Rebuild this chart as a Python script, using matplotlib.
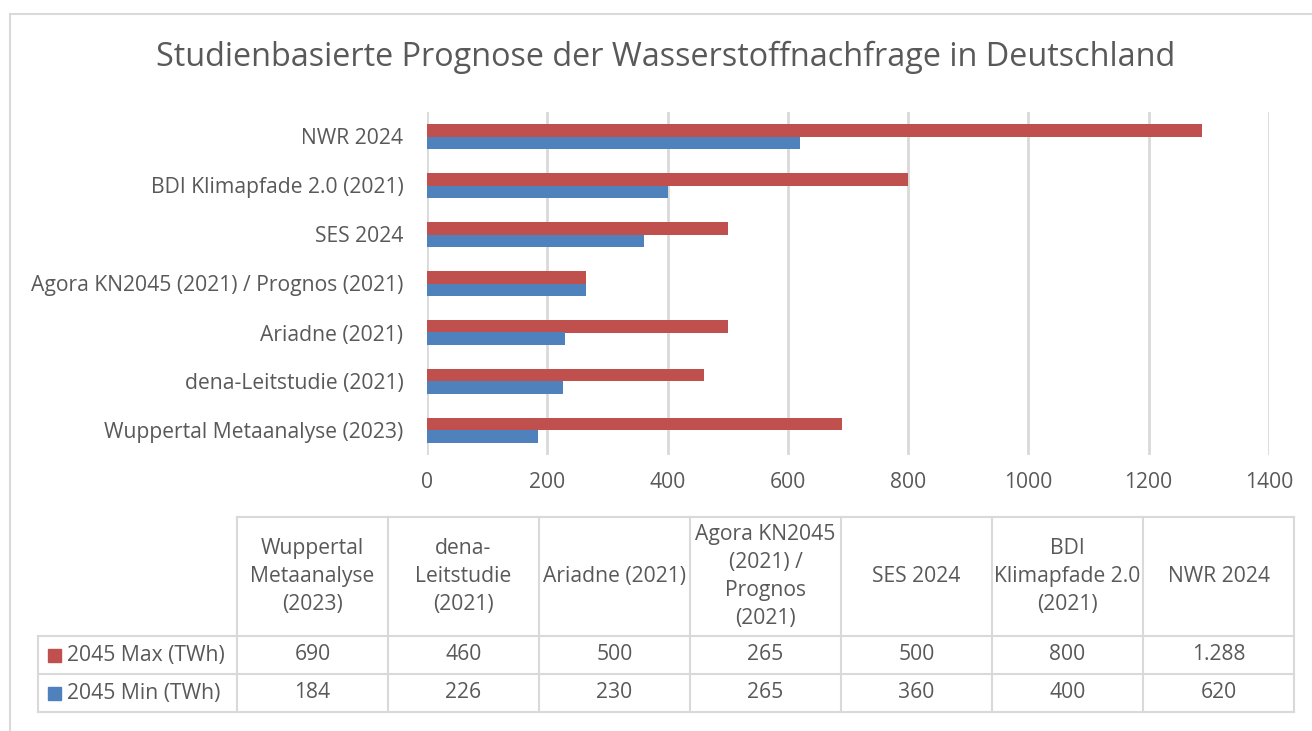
import matplotlib
matplotlib.use("Agg")
import matplotlib.pyplot as plt
from matplotlib.patches import Rectangle

# data (bottom to top in the chart)
studies = ["Wuppertal Metaanalyse (2023)", "dena-Leitstudie (2021)", "Ariadne (2021)",
           "Agora KN2045 (2021) / Prognos (2021)", "SES 2024",
           "BDI Klimapfade 2.0 (2021)", "NWR 2024"]
header_labels = ["Wuppertal\nMetaanalyse\n(2023)", "dena-\nLeitstudie\n(2021)", "Ariadne (2021)",
                 "Agora KN2045\n(2021) /\nPrognos\n(2021)", "SES 2024",
                 "BDI\nKlimapfade 2.0\n(2021)", "NWR 2024"]
max_twh = [690, 460, 500, 265, 500, 800, 1288]
min_twh = [184, 226, 230, 265, 360, 400, 620]
series_names = ["2045 Max (TWh)", "2045 Min (TWh)"]
x_ticks = [0, 200, 400, 600, 800, 1000, 1200, 1400]

RED = "#C0504D"
BLUE = "#4F81BD"
TXT = "#595959"
GRID = "#D9D9D9"
W, H = 1312, 731
FS = 15.2

plt.rcParams["font.family"] = ["Open Sans", "DejaVu Sans"]

fig = plt.figure(figsize=(W / 100, H / 100), dpi=100)

# chart border
fig.patches.append(Rectangle((10 / W, -0.05), 1.1, 1 - 14 / H + 0.05, transform=fig.transFigure,
                             fill=False, edgecolor=GRID, linewidth=1.5))

fig.text(666 / W, 1 - 57 / H, "Studienbasierte Prognose der Wasserstoffnachfrage in Deutschland",
         ha="center", va="center", fontsize=23.3, color=TXT)

ax = fig.add_axes([427 / W, 1 - 455 / H, (1269 - 427) / W, (455 - 112) / H])
pos = list(range(len(studies)))
h = 0.26
ax.barh([p + h / 2 for p in pos], max_twh, height=h, color=RED, zorder=2)
ax.barh([p - h / 2 for p in pos], min_twh, height=h, color=BLUE, zorder=2)
ax.set_xlim(0, 1400)
ax.set_ylim(-0.5, len(studies) - 0.5)
ax.set_xticks(x_ticks)
ax.set_yticks(pos)
ax.set_yticklabels(studies)
ax.grid(axis="x", color=GRID, linewidth=2, zorder=0)
for s in ax.spines.values():
    s.set_visible(False)
ax.tick_params(axis="both", length=0, labelsize=FS, labelcolor=TXT)
ax.tick_params(axis="y", pad=17)
ax.tick_params(axis="x", pad=12)

# data table
tax = fig.add_axes([38 / W, 1 - 712 / H, (1294 - 38) / W, (712 - 517) / H])
lab_w = 199 / 151
ncol = len(studies)
tax.set_xlim(-lab_w, ncol)
tax.set_ylim(195, 0)
tax.axis("off")
rows_y = [0, 119, 157, 195]
lk = dict(color=GRID, linewidth=1.5, clip_on=False)
tax.plot([0, ncol], [0, 0], **lk)
for y in rows_y[1:]:
    tax.plot([-lab_w, ncol], [y, y], **lk)
tax.plot([-lab_w, -lab_w], [119, 195], **lk)
for i in range(ncol + 1):
    tax.plot([i, i], [0, 195], **lk)

for i, lab in enumerate(header_labels):
    tax.text(i + 0.5, 59.5, lab, ha="center", va="center", fontsize=FS, color=TXT, linespacing=1.42)

for r, (name, vals, col) in enumerate(zip(series_names, [max_twh, min_twh], [RED, BLUE])):
    yc = (rows_y[r + 1] + rows_y[r + 2]) / 2
    tax.add_patch(Rectangle((-lab_w + 10 / 151, yc - 6.5), 13 / 151, 13, color=col))
    tax.text(-lab_w + 29 / 151, yc, name, ha="left", va="center", fontsize=FS, color=TXT)
    for i, v in enumerate(vals):
        tax.text(i + 0.5, yc, f"{v:,}".replace(",", "."), ha="center", va="center",
                 fontsize=FS, color=TXT)

fig.savefig("out.png", dpi=100)
